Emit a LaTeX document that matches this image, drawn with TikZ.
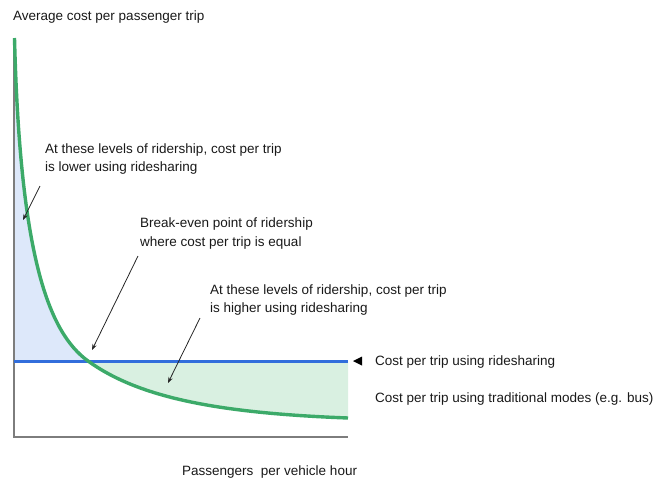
\documentclass[tikz,border=0pt]{standalone}
\usepackage{fontspec}
\setmainfont{Liberation Sans}
\usetikzlibrary{arrows.meta}

\definecolor{curvegreen}{RGB}{60,170,105}
\definecolor{lineblue}{RGB}{50,110,220}
\definecolor{fillblue}{RGB}{221,232,250}
\definecolor{fillgreen}{RGB}{217,240,225}
\definecolor{axisgray}{RGB}{125,125,125}

% average cost curve of traditional modes (two joined cubic pieces)
\newcommand\costcurve{(14.5,38) .. controls (20,255) and (48,332) .. (88,361)
  .. controls (138,397) and (215,413) .. (348,418)}

\tikzset{
  label/.style={anchor=west, inner sep=0pt, align=left,
    font=\fontsize{13.5}{18.5}\selectfont, text=black!90},
  pointer/.style={draw=black!85, line width=0.8pt, -{Stealth[length=6pt, width=4.5pt]}},
  axisline/.style={draw=axisgray, line width=1.6pt},
}

\begin{document}
\begin{tikzpicture}[x=1pt, y=-1pt]
\useasboundingbox (0,0) rectangle (670,479);

% shaded regions on either side of the break-even point
\begin{scope}
  \clip (14,30) rectangle (348,361);
  \fill[fillblue] \costcurve -- (14,438) -- (14,38) -- cycle;
\end{scope}
\begin{scope}
  \clip (14,361) rectangle (348,438);
  \fill[fillgreen] \costcurve -- (348,30) -- (14.5,30) -- cycle;
\end{scope}

% axes
\coordinate (origin) at (14,437);
\coordinate (ytop) at (14,38);
\coordinate (xend) at (348,437);
\draw[axisline] (ytop) -- (origin) -- (xend);

% ridesharing cost line
\coordinate (rideL) at (14,361);
\coordinate (rideR) at (348,361);
\draw[lineblue, line width=3pt] (rideL) -- (rideR);

% traditional cost curve
\draw[curvegreen, line width=3.4pt] \costcurve;

% marker for the ridesharing line
\fill[black] (353,361) -- (362,356.5) -- (362,365.5) -- cycle;

% labels
\node[label] (ytitle) at (13,17) {Average cost per passenger trip};
\node[label] (lower) at (45,159) {At these levels of ridership, cost per trip\\is lower using ridesharing};
\node[label] (breakeven) at (140,233.5) {Break-even point of ridership\\where cost per trip is equal};
\node[label] (higher) at (210,300) {At these levels of ridership, cost per trip\\is higher using ridesharing};
\node[label] (ridelabel) at (375,362) {Cost per trip using ridesharing};
\node[label] (tradlabel) at (375,399) {Cost per trip using traditional modes (e.g. bus)};
\node[label] (xtitle) at (182,472) {Passengers\ \ per vehicle hour};

% pointers
\coordinate (lowerTail) at (40,186);
\coordinate (lowerTip) at (23,220);
\coordinate (beTail) at (138,256);
\coordinate (beTip) at (92,350);
\coordinate (higherTail) at (200,318);
\coordinate (higherTip) at (168,383);
\draw[pointer] (lowerTail) -- (lowerTip);
\draw[pointer] (beTail) -- (beTip);
\draw[pointer] (higherTail) -- (higherTip);
\end{tikzpicture}
\end{document}
